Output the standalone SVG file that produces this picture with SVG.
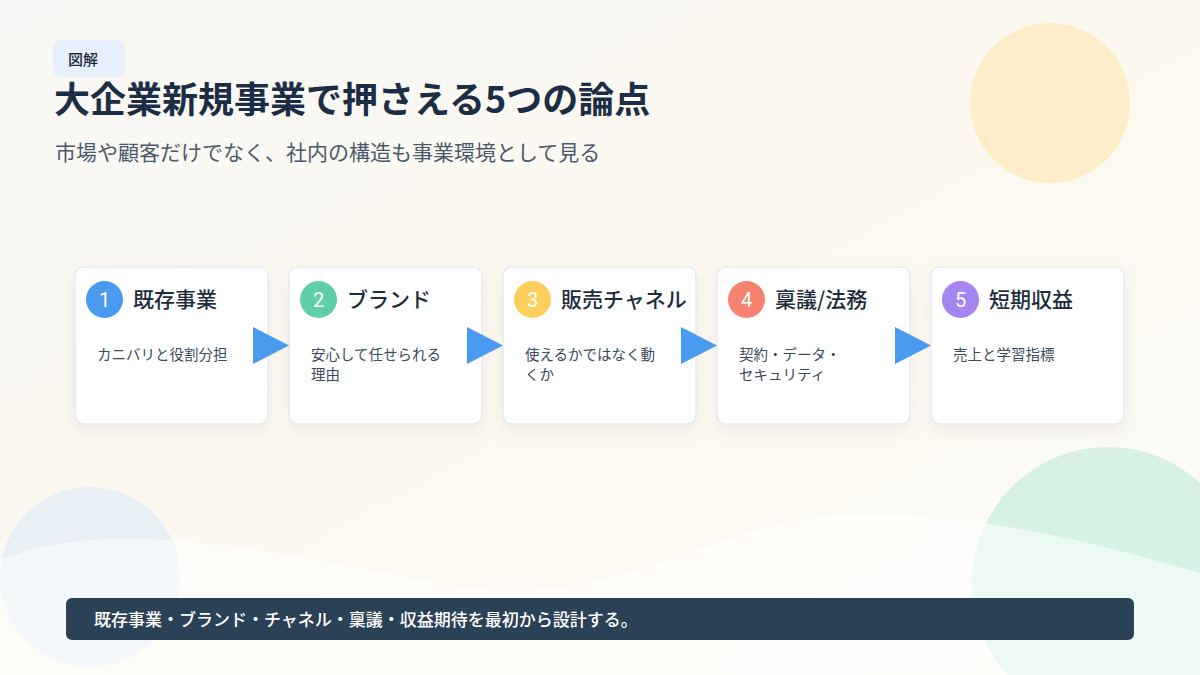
<svg xmlns="http://www.w3.org/2000/svg" width="1200" height="675" viewBox="0 0 1200 675">
<defs>
<linearGradient id="bg" x1="0" y1="0" x2="1" y2="1">
<stop offset="0" stop-color="#f8f8f6"/>
<stop offset="0.5" stop-color="#fdf9f0"/>
<stop offset="1" stop-color="#fbfcf8"/>
</linearGradient>
<filter id="sh" x="-20%" y="-20%" width="140%" height="150%">
<feDropShadow dx="0" dy="6" stdDeviation="8" flood-color="#8a7a60" flood-opacity="0.12"/>
</filter>
<style>
.card{fill:#ffffff;stroke:#e1e7ee;stroke-width:1.2}
.num{font-family:"Roboto","Noto Sans",sans-serif;font-size:20px;fill:#ffffff;text-anchor:middle}
.ttl{font-family:"Noto Sans CJK JP",sans-serif;font-size:21px;font-weight:500;fill:#1e2d3d}
.desc{font-family:"Noto Sans CJK JP",sans-serif;font-size:14.5px;fill:#3c4a5a}
.arr{fill:#4a9af0}
</style>
</defs>
<rect width="1200" height="675" fill="url(#bg)"/>
<circle cx="1050" cy="103" r="80" fill="#fdecc4" opacity="0.9"/>
<circle cx="90" cy="577" r="90" fill="#e6eef5" opacity="0.9"/>
<circle cx="1108" cy="583" r="136" fill="#d3f1e3" opacity="0.9"/>
<path d="M0 560 C120 510 300 560 460 587 C620 610 720 520 840 515 C980 510 1100 545 1200 573 L1200 675 L0 675 Z" fill="#ffffff" opacity="0.55"/>

<g id="tag">
<rect x="53" y="40" width="72" height="37" rx="8" fill="#e6f0fb"/>
<text x="68" y="65" font-family="'Noto Sans CJK JP',sans-serif" font-size="15" font-weight="500" fill="#1e2d3d">図解</text>
</g>
<g id="title">
<text x="54" y="113" font-family="'Noto Sans CJK JP',sans-serif" font-size="36" font-weight="700" fill="#1b2e45">大企業新規事業で押さえる5つの論点</text>
</g>
<g id="subtitle">
<text x="55" y="160" font-family="'Noto Sans CJK JP',sans-serif" font-size="21" fill="#4b5a6a">市場や顧客だけでなく、社内の構造も事業環境として見る</text>
</g>

<g id="node1">
<rect class="card" x="75" y="267" width="193" height="157" rx="9" filter="url(#sh)"/>
<circle cx="104.5" cy="299.5" r="18.5" fill="#4a9af0"/>
<text class="num" x="104.5" y="306.5">1</text>
<text class="ttl" x="133" y="307">既存事業</text>
<text class="desc" x="97" y="360">カニバリと役割分担</text>
</g>
<g id="node2">
<rect class="card" x="289" y="267" width="193" height="157" rx="9" filter="url(#sh)"/>
<circle cx="318.5" cy="299.5" r="18.5" fill="#5ecfa8"/>
<text class="num" x="318.5" y="306.5">2</text>
<text class="ttl" x="347" y="307">ブランド</text>
<text class="desc" x="311" y="360">安心して任せられる</text>
<text class="desc" x="311" y="380">理由</text>
</g>
<g id="node3">
<rect class="card" x="503" y="267" width="193" height="157" rx="9" filter="url(#sh)"/>
<circle cx="532.5" cy="299.5" r="18.5" fill="#fccf5c"/>
<text class="num" x="532.5" y="306.5">3</text>
<text class="ttl" x="561" y="307">販売チャネル</text>
<text class="desc" x="525" y="360">使えるかではなく動</text>
<text class="desc" x="525" y="380">くか</text>
</g>
<g id="node4">
<rect class="card" x="717" y="267" width="193" height="157" rx="9" filter="url(#sh)"/>
<circle cx="746.5" cy="299.5" r="18.5" fill="#f6836f"/>
<text class="num" x="746.5" y="306.5">4</text>
<text class="ttl" x="775" y="307">稟議/法務</text>
<text class="desc" x="739" y="360">契約・データ・</text>
<text class="desc" x="739" y="380">セキュリティ</text>
</g>
<g id="node5">
<rect class="card" x="931" y="267" width="193" height="157" rx="9" filter="url(#sh)"/>
<circle cx="960.5" cy="299.5" r="18.5" fill="#a586f0"/>
<text class="num" x="960.5" y="306.5">5</text>
<text class="ttl" x="989" y="307">短期収益</text>
<text class="desc" x="953" y="360">売上と学習指標</text>
</g>

<g id="connectors">
<polygon class="arr" points="253,327 289,345.5 253,364"/>
<polygon class="arr" points="467,327 503,345.5 467,364"/>
<polygon class="arr" points="681,327 717,345.5 681,364"/>
<polygon class="arr" points="895,327 931,345.5 895,364"/>
</g>

<g id="summary">
<rect x="66" y="598" width="1068" height="42" rx="6" fill="#2b4155"/>
<text x="94" y="626" font-family="'Noto Sans CJK JP',sans-serif" font-size="17" font-weight="500" fill="#ffffff">既存事業・ブランド・チャネル・稟議・収益期待を最初から設計する。</text>
</g>
</svg>
